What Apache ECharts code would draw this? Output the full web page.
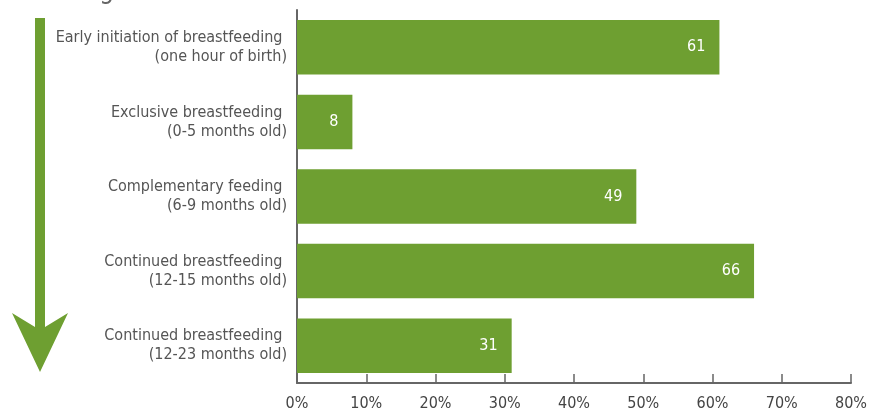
<!DOCTYPE html>
<html lang="en">
<head>
    <meta charset="utf-8">
    <title>Breastfeeding</title>
    <script src="https://cdn.jsdelivr.net/npm/echarts@6/dist/echarts.min.js"></script>
    <style>
        html, body { margin: 0; height: 100%; background: #fff; }
        #main { width: 870px; height: 412px; }
    </style>
</head>
<body>
<div id="main"></div>
<script>
    var categories = [
        'Early initiation of breastfeeding \n(one hour of birth)',
        'Exclusive breastfeeding \n(0-5 months old)',
        'Complementary feeding \n(6-9 months old)',
        'Continued breastfeeding \n(12-15 months old)',
        'Continued breastfeeding \n(12-23 months old)'
    ];
    var values = [61, 8, 49, 66, 31];
    var xTicks = [0, 10, 20, 30, 40, 50, 60, 70, 80];

    var font = "'Liberation Sans Narrow', 'DejaVu Sans Condensed', sans-serif";
    var green = '#6e9f31';

    var myChart = echarts.init(document.getElementById('main'));
    var option = {
        animation: false,
        textStyle: { fontFamily: font },
        grid: { left: 297, right: 18, top: 10, bottom: 28, containLabel: false },
        xAxis: {
            type: 'value',
            min: xTicks[0],
            max: xTicks[xTicks.length - 1],
            interval: 10,
            axisLine: { show: true, lineStyle: { color: '#666', width: 2 } },
            axisTick: { show: true, inside: true, length: 9, lineStyle: { color: '#666', width: 1.5 } },
            splitLine: { show: false },
            axisLabel: { color: '#444', fontSize: 16, fontFamily: font, margin: 13, formatter: '{value}%' }
        },
        yAxis: {
            type: 'category',
            inverse: true,
            data: categories,
            axisLine: { show: true, lineStyle: { color: '#666', width: 2 } },
            axisTick: { show: false },
            axisLabel: {
                color: '#555', fontSize: 16, fontFamily: font, lineHeight: 19,
                margin: 10, align: 'right', padding: [0, 0, 7, 0]
            }
        },
        series: [{
            type: 'bar',
            data: values,
            barCategoryGap: '27%',
            itemStyle: { color: green },
            label: {
                show: true,
                position: 'insideRight',
                distance: 14,
                color: '#fff',
                fontSize: 16,
                fontFamily: font
            }
        }],
        graphic: [
            {
                type: 'text', left: -3, top: -22,
                style: { text: 'Percentages', font: '26px ' + font, fill: '#666' }
            },
            {
                type: 'polygon',
                shape: { points: [[35, 18], [45, 18], [45, 327], [68, 313], [40, 372], [12, 313], [35, 327]] },
                style: { fill: green }
            }
        ]
    };
    option && myChart.setOption(option);
</script>
</body>
</html>
